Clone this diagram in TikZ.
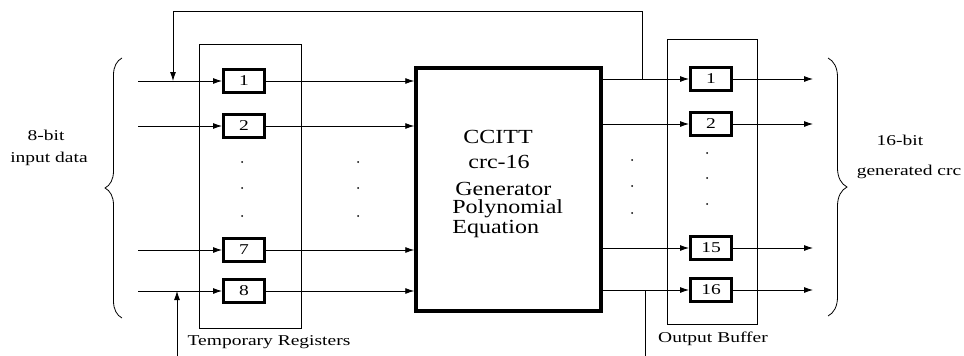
\documentclass[tikz,border=0pt]{standalone}
\usepackage{fontspec}
\setmainfont{Liberation Serif}
\usetikzlibrary{arrows.meta,decorations.pathreplacing}
\begin{document}
\begin{tikzpicture}[x=1pt,y=-1pt,
  line width=0.8pt,
  reg/.style={draw,line width=3pt,minimum width=41pt,minimum height=23pt,inner sep=0pt,font=\fontsize{15}{15}\selectfont},
  frame/.style={draw,line width=0.8pt,inner sep=0pt},
  arr/.style={-{Latex[length=9pt,width=6pt]}},
  lbl/.style={font=\fontsize{15}{15}\selectfont,inner sep=0pt},
  big/.style={font=\fontsize{20}{20}\selectfont,inner sep=0pt},
  dot/.style={circle,fill,inner sep=0pt,minimum size=2pt}]
\useasboundingbox (0,0) rectangle (964,356);
% frames
\node[frame,minimum width=102pt,minimum height=284pt] (tmp) at (250,186) {};
\node[frame,minimum width=90pt,minimum height=285pt] (buf) at (712,181.5) {};
\node[draw,line width=3.5pt,minimum width=185pt,minimum height=243pt,inner sep=0pt] (gen) at (508.5,189.5) {};
% registers
\node[reg] (r1) at (244,81) {\scalebox{1.3}[1]{1}};
\node[reg] (r2) at (244,126) {\scalebox{1.3}[1]{2}};
\node[reg] (r7) at (244,250) {\scalebox{1.3}[1]{7}};
\node[reg] (r8) at (244,291) {\scalebox{1.3}[1]{8}};
\node[reg] (o1) at (711,79) {\scalebox{1.3}[1]{1}};
\node[reg] (o2) at (711,124) {\scalebox{1.3}[1]{2}};
\node[reg] (o15) at (711,248) {\scalebox{1.3}[1]{15}};
\node[reg] (o16) at (711,290) {\scalebox{1.3}[1]{16}};
% input coordinates
\coordinate (i1) at (138,81);
\coordinate (i2) at (138,126);
\coordinate (i7) at (138,250);
\coordinate (i8) at (138,291);
\foreach \a/\b in {i1/r1,i2/r2,i7/r7,i8/r8}{\draw[arr] (\a) -- (\b.west);}
% registers to generator
\foreach \r in {r1,r2,r7,r8}{\draw[arr] (\r.east) -- (gen.west |- \r);}
% generator to output buffer
\foreach \r in {o1,o2,o15,o16}{\draw[arr] (gen.east |- \r) -- (\r.west);}
% outputs
\coordinate (e1) at (813,79);
\coordinate (e2) at (813,124);
\coordinate (e15) at (813,248);
\coordinate (e16) at (813,290);
\foreach \a/\b in {o1/e1,o2/e2,o15/e15,o16/e16}{\draw[arr] (\a.east) -- (\b);}
% feedback
\coordinate (fa) at (642,79);
\coordinate (fb) at (642,11);
\coordinate (fc) at (173,11);
\coordinate (fd) at (173,81);
\draw[arr] (fa) -- (fb) -- (fc) -- (fd);
% bottom lines
\coordinate (ba) at (177,356);
\coordinate (bb) at (177,291);
\draw[arr] (ba) -- (bb);
\coordinate (ca) at (645,290);
\coordinate (cb) at (645,356);
\draw (ca) -- (cb);
% dots
\foreach \y in {162,188,216}{\node[dot] at (242,\y) {}; \node[dot] at (358,\y) {};}
\foreach \y in {160,186,213}{\node[dot] at (632,\y) {};}
\foreach \y in {153,178,204}{\node[dot] at (707,\y) {};}
% braces
\draw[decorate,decoration={brace,amplitude=17pt}] (122,318) -- (122,58);
\draw[decorate,decoration={brace,amplitude=19pt}] (828,58) -- (828,316);
% labels
\node[lbl] (t8a) at (46,135) {\scalebox{1.3}[1]{8-bit}};
\node[lbl] (t8b) at (49,159) {\scalebox{1.3}[1]{input data}};
\node[lbl] (t16a) at (900,140) {\scalebox{1.3}[1]{16-bit}};
\node[lbl] (t16b) at (909,172) {\scalebox{1.3}[1]{generated crc}};
\node[lbl] (ttr) at (269,342) {\scalebox{1.3}[1]{Temporary Registers}};
\node[lbl] (tob) at (713,339) {\scalebox{1.3}[1]{Output Buffer}};
\node[big] (g1) at (498,137) {\scalebox{1.2}[1]{CCITT}};
\node[big] (g2) at (499,162) {\scalebox{1.2}[1]{crc-16}};
\node[big,anchor=west] (g3) at (455,189) {\scalebox{1.2}[1]{Generator}};
\node[big,anchor=west] (g4) at (452,209) {\scalebox{1.2}[1]{Polynomial}};
\node[big,anchor=west] (g5) at (452,229) {\scalebox{1.2}[1]{Equation}};
\end{tikzpicture}
\end{document}
